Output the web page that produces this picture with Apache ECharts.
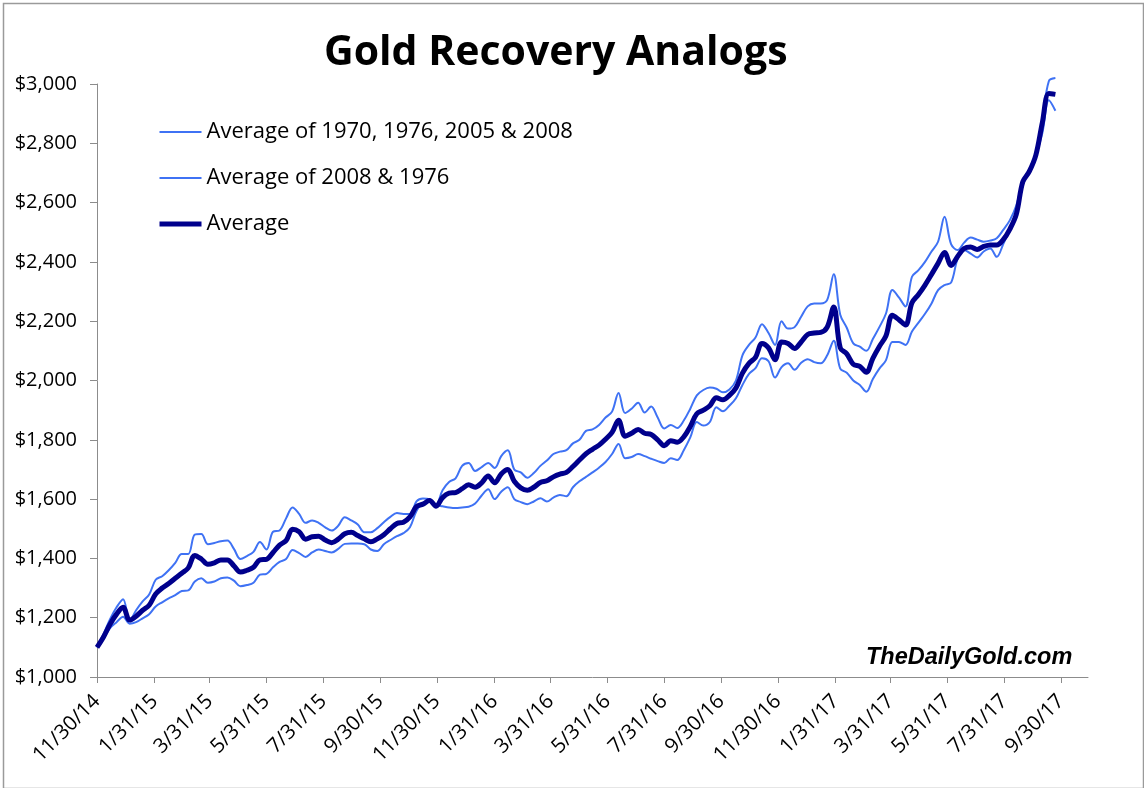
<!DOCTYPE html>
<html>
<head>
<meta charset="utf-8">
<script src="https://cdn.jsdelivr.net/npm/echarts@6/dist/echarts.min.js"></script>
<style>
html,body{margin:0;padding:0;background:#fff;}
#chart{width:1144px;height:788px;}
</style>
</head>
<body>
<div id="chart"></div>
<script>
// Weekly observation dates
const dates = [
'2014-11-30','2014-12-07','2014-12-14','2014-12-21','2014-12-28',
'2015-01-04','2015-01-11','2015-01-18','2015-01-25','2015-02-01','2015-02-08','2015-02-15','2015-02-22',
'2015-03-01','2015-03-08','2015-03-15','2015-03-22','2015-03-29','2015-04-05','2015-04-12','2015-04-19','2015-04-26',
'2015-05-03','2015-05-10','2015-05-17','2015-05-24','2015-05-31','2015-06-07','2015-06-14','2015-06-21','2015-06-28',
'2015-07-05','2015-07-12','2015-07-19','2015-07-26','2015-08-02','2015-08-09','2015-08-16','2015-08-23','2015-08-30',
'2015-09-06','2015-09-13','2015-09-20','2015-09-27','2015-10-04','2015-10-11','2015-10-18','2015-10-25',
'2015-11-01','2015-11-08','2015-11-15','2015-11-22','2015-11-29','2015-12-06','2015-12-13','2015-12-20','2015-12-27',
'2016-01-03','2016-01-10','2016-01-17','2016-01-24','2016-01-31','2016-02-07','2016-02-14','2016-02-21','2016-02-28',
'2016-03-06','2016-03-13','2016-03-20','2016-03-27','2016-04-03','2016-04-10','2016-04-17','2016-04-24',
'2016-05-01','2016-05-08','2016-05-15','2016-05-22','2016-05-29','2016-06-05','2016-06-12','2016-06-19','2016-06-26',
'2016-07-03','2016-07-10','2016-07-17','2016-07-24','2016-07-31','2016-08-07','2016-08-14','2016-08-21','2016-08-28',
'2016-09-04','2016-09-11','2016-09-18','2016-09-25','2016-10-02','2016-10-09','2016-10-16','2016-10-23','2016-10-30',
'2016-11-06','2016-11-13','2016-11-20','2016-11-27','2016-12-04','2016-12-11','2016-12-18','2016-12-25',
'2017-01-01','2017-01-08','2017-01-15','2017-01-22','2017-01-29','2017-02-05','2017-02-12','2017-02-19','2017-02-26',
'2017-03-05','2017-03-12','2017-03-19','2017-03-26','2017-04-02','2017-04-09','2017-04-16','2017-04-23','2017-04-30',
'2017-05-07','2017-05-14','2017-05-21','2017-05-28','2017-06-04','2017-06-11','2017-06-18','2017-06-25',
'2017-07-02','2017-07-09','2017-07-16','2017-07-23','2017-07-30','2017-08-06','2017-08-13','2017-08-20','2017-08-27',
'2017-09-03','2017-09-10','2017-09-17','2017-09-24'
];

// Average of 1970, 1976, 2005 & 2008
const avgFourYears = [
1100,1145,1195,1235,1262,1190,1225,1255,1278,1328,1340,1360,1385,1415,1415,1480,1482,1448,1452,1458,
1460,1432,1398,1408,1422,1455,1430,1490,1494,1535,1572,1550,1520,1528,1520,1505,1494,1510,1539,1528,
1514,1488,1488,1502,1522,1540,1553,1550,1550,1592,1602,1600,1582,1630,1658,1670,1712,1722,1695,1708,
1722,1705,1745,1765,1700,1690,1672,1688,1712,1730,1752,1760,1765,1788,1800,1830,1835,1850,1875,1895,
1958,1890,1905,1925,1892,1912,1875,1838,1850,1840,1865,1905,1950,1968,1976,1972,1960,1970,2000,2085,
2120,2145,2190,2160,2120,2200,2175,2180,2215,2250,2260,2260,2272,2358,2222,2178,2125,2114,2100,2140,
2180,2225,2305,2280,2250,2350,2372,2400,2435,2468,2552,2460,2440,2465,2482,2475,2468,2472,2480,2508,
2540,2590,2670,2700,2770,2880,3010,3020
];

// Average of 2008 & 1976
const avgTwoYears = [
1100,1130,1165,1185,1203,1180,1185,1198,1212,1238,1252,1265,1276,1290,1292,1322,1333,1318,1322,1333,
1336,1325,1306,1310,1318,1345,1348,1370,1388,1398,1428,1418,1405,1420,1430,1425,1420,1432,1449,1450,
1450,1448,1430,1425,1448,1462,1475,1485,1505,1560,1588,1591,1580,1576,1572,1570,1572,1574,1585,1612,
1633,1600,1625,1640,1600,1590,1583,1592,1603,1592,1605,1614,1610,1640,1660,1675,1690,1706,1725,1752,
1786,1738,1742,1752,1745,1736,1728,1722,1738,1732,1765,1808,1860,1848,1860,1910,1896,1915,1940,1985,
2022,2042,2075,2065,2010,2045,2058,2036,2060,2072,2062,2058,2085,2134,2040,2026,2000,1985,1962,2005,
2040,2068,2130,2130,2120,2165,2195,2225,2260,2305,2322,2330,2410,2440,2428,2415,2435,2445,2417,2460,
2510,2555,2660,2710,2760,2835,2945,2910
];

// Average
const average = [
1100,1135,1178,1212,1235,1192,1205,1225,1242,1280,1300,1315,1333,1350,1368,1410,1398,1380,1385,1395,
1395,1375,1354,1360,1370,1395,1397,1420,1445,1460,1498,1490,1465,1473,1475,1462,1453,1465,1483,1488,
1477,1466,1456,1466,1480,1500,1518,1522,1540,1575,1583,1595,1576,1605,1620,1622,1635,1648,1640,1655,
1678,1655,1685,1700,1660,1638,1630,1640,1656,1662,1675,1684,1690,1710,1732,1753,1768,1782,1802,1825,
1866,1812,1822,1835,1822,1818,1800,1780,1797,1792,1810,1845,1888,1900,1915,1942,1935,1950,1975,2025,
2058,2078,2125,2110,2070,2130,2125,2108,2130,2155,2160,2162,2180,2248,2110,2090,2055,2048,2028,2075,
2115,2150,2220,2205,2187,2262,2290,2322,2358,2395,2432,2388,2418,2445,2450,2442,2452,2457,2457,2475,
2510,2560,2670,2705,2760,2870,2968,2965
];

const seriesNames = ['Average of 1970, 1976, 2005 & 2008', 'Average of 2008 & 1976', 'Average'];

const tickDates = ['2014-11-30','2015-01-31','2015-03-31','2015-05-31','2015-07-31','2015-09-30',
'2015-11-30','2016-01-31','2016-03-31','2016-05-31','2016-07-31','2016-09-30','2016-11-30',
'2017-01-31','2017-03-31','2017-05-31','2017-07-31','2017-09-30'];
const tickLabels = ['11/30/14','1/31/15','3/31/15','5/31/15','7/31/15','9/30/15','11/30/15',
'1/31/16','3/31/16','5/31/16','7/31/16','9/30/16','11/30/16','1/31/17','3/31/17','5/31/17','7/31/17','9/30/17'];
const axisEndDate = '2017-10-29';

function dayOf(s) {
  const p = s.split('-').map(Number);
  return Math.round((Date.UTC(p[0], p[1] - 1, p[2]) - Date.UTC(2014, 10, 30)) / 86400000);
}
const xDays = dates.map(dayOf);
const tickDays = tickDates.map(dayOf);
const labelMap = {};
tickDays.forEach((d, i) => { labelMap[d] = tickLabels[i]; });
const pairs = arr => arr.map((v, i) => [xDays[i], v]);

const FONT = 'Open Sans';
const thinColor = '#3f72f4';
const thickColor = '#00008c';

const chart = echarts.init(document.getElementById('chart'), null, {renderer: 'canvas'});
chart.setOption({
  backgroundColor: '#fff',
  animation: false,
  title: {
    text: 'Gold Recovery Analogs',
    left: 324, top: 33, padding: 0,
    textStyle: {fontFamily: FONT, fontWeight: 'bold', fontSize: 41, color: '#000'}
  },
  legend: {
    orient: 'vertical',
    left: 157, top: 121, padding: 0,
    itemWidth: 42, itemHeight: 14, itemGap: 24,
    itemStyle: {color: 'transparent', borderWidth: 0, opacity: 0},
    lineStyle: {width: 'inherit'},
    textStyle: {fontFamily: FONT, fontSize: 22, color: '#000', lineHeight: 22},
    data: seriesNames
  },
  grid: {left: 97, right: 56, top: 84, bottom: 111, containLabel: false},
  xAxis: {
    type: 'value',
    min: 0,
    max: dayOf(axisEndDate),
    axisLine: {show: true, lineStyle: {color: '#8c8c8c', width: 1}},
    axisTick: {show: true, length: 6, customValues: tickDays, lineStyle: {color: '#8c8c8c'}},
    axisLabel: {
      customValues: tickDays,
      rotate: 45, margin: 21,
      fontFamily: FONT, fontSize: 20.5, color: '#000',
      formatter: v => labelMap[v] || ''
    },
    splitLine: {show: false}
  },
  yAxis: {
    type: 'value',
    min: 1000, max: 3000, interval: 200,
    axisLine: {show: true, lineStyle: {color: '#8c8c8c', width: 1}},
    axisTick: {show: true, length: 7, lineStyle: {color: '#8c8c8c'}},
    axisLabel: {
      margin: 20, fontFamily: FONT, fontSize: 20, color: '#000',
      formatter: v => '$' + v.toLocaleString('en-US')
    },
    splitLine: {show: false}
  },
  graphic: [
    {type: 'rect', left: 1, top: 1, shape: {width: 1140, height: 785},
     style: {fill: 'none', stroke: '#9a9a9a', lineWidth: 1.5}, silent: true},
    {type: 'text', left: 866, top: 646,
     style: {text: 'TheDailyGold.com', fontFamily: 'Liberation Sans', fontWeight: 'bold',
             fontStyle: 'italic', fontSize: 23.5, fill: '#000'}}
  ],
  series: [
    {name: seriesNames[0], type: 'line', data: pairs(avgFourYears), smooth: 0.35, symbol: 'none', clip: false,
     lineStyle: {color: thinColor, width: 2}, itemStyle: {color: thinColor}},
    {name: seriesNames[1], type: 'line', data: pairs(avgTwoYears), smooth: 0.35, symbol: 'none', clip: false,
     lineStyle: {color: thinColor, width: 2}, itemStyle: {color: thinColor}},
    {name: seriesNames[2], type: 'line', data: pairs(average), smooth: 0.35, symbol: 'none', clip: false,
     lineStyle: {color: thickColor, width: 5}, itemStyle: {color: thickColor}}
  ]
});
</script>
</body>
</html>
